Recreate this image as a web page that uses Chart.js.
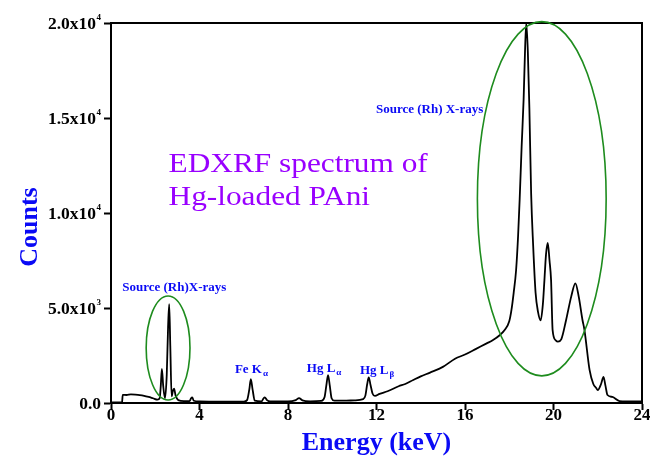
<!DOCTYPE html>
<html><head><meta charset="utf-8">
<script src="https://cdn.jsdelivr.net/npm/chart.js@4/dist/chart.umd.min.js"></script>
<style>html,body{margin:0;padding:0;background:#fff;}canvas{display:block}</style>
</head><body>
<canvas id="c" width="650" height="456"></canvas>
<script>
// ---- data ----
const energyKeV = [0,0.5,0.53,0.7,0.9,1.1,1.3,1.5,1.7,1.9,2.1,2.2,2.25,2.3,2.36,2.44,2.52,2.58,2.63,2.68,2.74,2.8,2.85,2.92,3.04,3.3,3.55,3.62,3.67,3.74,4.0,5.0,6.0,6.15,6.25,6.32,6.4,6.5,6.8,6.9,6.95,7.05,7.2,8.0,8.35,8.5,8.65,9.0,9.5,9.65,9.73,9.81,9.89,9.97,10.1,10.5,11.0,11.4,11.5,11.58,11.65,11.73,11.82,11.93,12.14,12.5,13.0,13.3,13.66,14.0,14.42,15.0,15.55,16.0,16.5,16.98,17.25,17.58,17.8,18.0,18.1,18.2,18.31,18.4,18.47,18.56,18.65,18.72,18.77,18.84,18.91,18.99,19.08,19.19,19.3,19.42,19.52,19.59,19.66,19.74,19.82,19.89,19.96,20.1,20.2,20.35,20.57,20.8,20.99,21.14,21.31,21.4,21.63,21.8,21.93,22.0,22.15,22.26,22.35,22.44,22.66,22.98,23.3,24.0];
const counts    = [30,30,430,420,450,440,420,380,320,250,180,250,900,1800,900,250,1500,4000,5200,3000,350,650,750,400,150,100,100,250,300,120,80,70,70,150,700,1250,700,120,80,250,300,150,80,80,150,260,140,90,110,300,900,1470,900,250,120,120,140,200,400,1000,1350,950,500,370,480,620,880,1000,1210,1400,1600,1900,2330,2550,2850,3140,3300,3580,3850,4300,4900,5800,7000,8800,10700,13500,16000,18800,20000,18500,15500,11000,8300,5800,4800,4350,5200,6470,7800,8420,7500,6470,3840,3300,3230,3350,4370,5600,6300,5600,4370,3840,1740,1000,790,680,1000,1370,900,420,320,100,80,80];
const xTickValues = [0,4,8,12,16,20,24];
const yTickValues = [0,5000,10000,15000,20000];
const yTickMantissa = ['0.0','5.0x10','1.0x10','1.5x10','2.0x10'];
const yTickExponent = ['','3','4','4','4'];

// annotations (data coordinates)
const peakLabels = [
  {text:'Source (Rh)X-rays', sub:'', x:2.86, y:5910, align:'center'},
  {text:'Source (Rh) X-rays', sub:'', x:14.4, y:15260, align:'center'},
  {text:'Fe K', sub:'\u03b1', x:5.6, y:1560, align:'left'},
  {text:'Hg L', sub:'\u03b1', x:8.85, y:1615, align:'left'},
  {text:'Hg L', sub:'\u03b2', x:11.25, y:1550, align:'left'}
];
const captionLines = ['EDXRF spectrum of','Hg-loaded PAni'];
const captionPos = [{x:2.6, y:12140},{x:2.6, y:10420}];
const ellipses = [
  {x:2.58, y:2895, rx:0.99, ry:2740},
  {x:19.47, y:10750, rx:2.91, ry:9320}
];

const SERIF = '"Liberation Serif","Times New Roman",serif';
const BLUE = '#0a0af5';

const overlay = {
  id:'overlay',
  afterDraw(chart){
    const {ctx, chartArea:a, scales:{x, y}} = chart;
    ctx.save();
    // frame
    ctx.strokeStyle = '#000'; ctx.lineWidth = 2;
    ctx.strokeRect(a.left, a.top, a.right - a.left, a.bottom - a.top);
    // y tick labels with superscripts
    ctx.fillStyle = '#000';
    yTickValues.forEach((v, i) => {
      const py = y.getPixelForValue(v);
      const right = 101;
      let mainRight = right;
      if (yTickExponent[i]) {
        ctx.font = 'bold 9px ' + SERIF;
        ctx.textAlign = 'right'; ctx.textBaseline = 'alphabetic';
        ctx.fillText(yTickExponent[i], right, py - 3);
        mainRight = right - ctx.measureText(yTickExponent[i]).width - 0.5;
      }
      ctx.font = 'bold 17.5px ' + SERIF;
      ctx.textAlign = 'right'; ctx.textBaseline = 'middle';
      ctx.fillText(yTickMantissa[i], mainRight, py + 1);
    });
    // y title
    ctx.save();
    ctx.translate(30, 227);
    ctx.rotate(-Math.PI / 2);
    ctx.font = 'bold 26px ' + SERIF;
    ctx.fillStyle = BLUE; ctx.textAlign = 'center'; ctx.textBaseline = 'middle';
    ctx.fillText('Counts', 0, 0);
    ctx.restore();
    // ellipses
    ctx.strokeStyle = '#1e8c1e'; ctx.lineWidth = 1.6;
    ellipses.forEach(e => {
      const cx = x.getPixelForValue(e.x), cy = y.getPixelForValue(e.y);
      const rx = Math.abs(x.getPixelForValue(e.x + e.rx) - cx);
      const ry = Math.abs(y.getPixelForValue(e.y + e.ry) - cy);
      ctx.beginPath(); ctx.ellipse(cx, cy, rx, ry, 0, 0, Math.PI * 2); ctx.stroke();
    });
    // peak labels
    ctx.fillStyle = BLUE; ctx.textBaseline = 'alphabetic';
    peakLabels.forEach(l => {
      ctx.font = 'bold 13px ' + SERIF;
      const w = ctx.measureText(l.text).width;
      ctx.font = 'bold 9px ' + SERIF;
      const ws = l.sub ? ctx.measureText(l.sub).width + 1 : 0;
      let px = x.getPixelForValue(l.x);
      const py = y.getPixelForValue(l.y);
      if (l.align === 'center') px -= (w + ws) / 2;
      ctx.textAlign = 'left';
      ctx.font = 'bold 13px ' + SERIF;
      ctx.fillText(l.text, px, py);
      if (l.sub) { ctx.font = 'bold 9px ' + SERIF; ctx.fillText(l.sub, px + w + 1, py + 3); }
    });
    // caption
    ctx.fillStyle = '#9900ff';
    ctx.font = '27px ' + SERIF; ctx.textAlign = 'left'; ctx.textBaseline = 'alphabetic';
    captionLines.forEach((t, i) => {
      ctx.save();
      ctx.translate(x.getPixelForValue(captionPos[i].x), y.getPixelForValue(captionPos[i].y));
      ctx.scale(1.16, 1);
      ctx.fillText(t, 0, 0);
      ctx.restore();
    });
    ctx.restore();
  }
};

new Chart(document.getElementById('c'), {
  type: 'line',
  data: {
    datasets: [{
      data: energyKeV.map((e, i) => ({x: e, y: counts[i]})),
      borderColor: '#000', borderWidth: 1.8, pointRadius: 0,
      cubicInterpolationMode: 'monotone', fill: false
    }]
  },
  options: {
    responsive: false, animation: false,
    layout: {padding: {left: 0, right: 8, top: 23, bottom: 0}},
    plugins: {legend: {display: false}, tooltip: {enabled: false}},
    scales: {
      x: {
        type: 'linear', min: 0, max: 24,
        afterBuildTicks: s => { s.ticks = xTickValues.map(v => ({value: v})); },
        afterFit: s => { s.height = 53; },
        grid: {display: true, drawOnChartArea: false, drawTicks: true, tickLength: 7, tickWidth: 2, tickColor: '#000'},
        border: {display: true, color: '#000', width: 2},
        ticks: {color: '#000', font: {family: SERIF, size: 17, weight: 'bold', lineHeight: 1}, padding: -3, maxRotation: 0, autoSkip: false},
        title: {display: true, text: 'Energy (keV)', color: BLUE, font: {family: SERIF, size: 26, weight: 'bold', lineHeight: 1}, padding: 0}
      },
      y: {
        type: 'linear', min: 0, max: 20000,
        afterBuildTicks: s => { s.ticks = yTickValues.map(v => ({value: v})); },
        afterFit: s => { s.width = 111; },
        grid: {display: true, drawOnChartArea: false, drawTicks: true, tickLength: 7, tickWidth: 2, tickColor: '#000'},
        border: {display: true, color: '#000', width: 2},
        ticks: {display: false}
      }
    }
  },
  plugins: [overlay]
});
</script>
</body></html>
